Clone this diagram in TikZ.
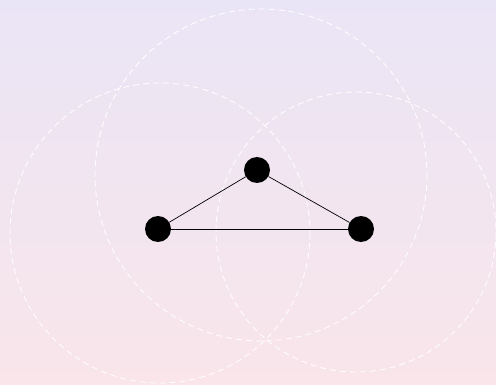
\documentclass[tikz,border=0pt]{standalone}
\usetikzlibrary{positioning}
\definecolor{bgtop}{RGB}{234,229,246}
\definecolor{bgbot}{RGB}{249,229,234}

\begin{document}
\begin{tikzpicture}[x=1pt, y=-1pt,
  dot/.style={circle, fill=black, inner sep=0pt, minimum size=26pt},
  ring/.style={draw=white, dash pattern=on 6pt off 4pt, line width=0.8pt},
  edge/.style={draw=black, line width=0.7pt}
]

% background
\shade[top color=bgtop, bottom color=bgbot] (0,0) rectangle (496,385);
\useasboundingbox (0,0) rectangle (496,385);

% range circles
\draw[ring] (160,233) circle (150);
\draw[ring] (261,175) circle (166);
\draw[ring] (356,232) circle (140);

% vertices
\node[dot] (top) at (257,170) {};
\node[dot] (left) at (158,229) {};
\node[dot] (right) at (361,229) {};

\draw[edge] (left) -- (top);
\draw[edge] (top) -- (right);
\draw[edge] (left) -- (right);

\end{tikzpicture}
\end{document}
